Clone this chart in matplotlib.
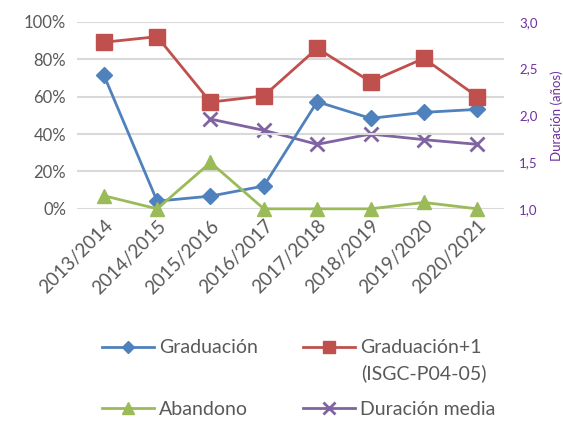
import matplotlib.pyplot as plt
import numpy as np

plt.rcParams['font.family'] = ['Lato', 'DejaVu Sans']

cursos = ['2013/2014', '2014/2015', '2015/2016', '2016/2017',
          '2017/2018', '2018/2019', '2019/2020', '2020/2021']
graduacion = [71.6, 4.1, 6.8, 12.2, 57.3, 48.4, 51.6, 53.2]
graduacion1 = [89.1, 92.1, 57.1, 60.4, 85.9, 68.0, 80.5, 60.0]
abandono = [7.0, 0, 24.8, 0, 0, 0, 3.4, 0]
duracion = [np.nan, np.nan, 1.96, 1.84, 1.69, 1.80, 1.74, 1.69]

gris = '#595959'
morado = '#7030A0'

fig = plt.figure(figsize=(5.63, 4.21), dpi=100)
ax = fig.add_axes([0.137, 0.504, 0.758, 0.444])
ax2 = ax.twinx()

x = np.arange(len(cursos))
l1, = ax.plot(x, graduacion, color='#4F81BD', lw=2, marker='D', ms=8,
              label='Graduación', clip_on=False)
l2, = ax.plot(x, graduacion1, color='#C0504D', lw=2, marker='s', ms=11,
              label='Graduación+1', clip_on=False)
l3, = ax.plot(x, abandono, color='#9BBB59', lw=2, marker='^', ms=10,
              label='Abandono', clip_on=False)
l4, = ax2.plot(x, duracion, color='#8064A2', lw=2, marker='x', ms=10, mew=2,
               label='Duración media')

ax.set_xlim(-0.5, len(cursos) - 0.5)
ax.set_ylim(0, 100)
ax.set_yticks(range(0, 101, 20))
ax.set_yticklabels([f'{v}%' for v in range(0, 101, 20)])
ax.grid(axis='y', color='#D9D9D9', lw=1.5)
ax.set_axisbelow(True)
ax.set_zorder(ax2.get_zorder() + 1)
ax.patch.set_visible(False)

ax2.set_ylim(1.0, 3.0)
ax2.set_yticks([1.0, 1.5, 2.0, 2.5, 3.0])
ax2.set_yticklabels(['1,0', '1,5', '2,0', '2,5', '3,0'])
ax2.set_ylabel('Duración (años)', color=morado, fontsize=9.5, labelpad=9)
ax2.tick_params(axis='y', colors=morado, labelsize=9.5, length=0, pad=11)

ax.set_xticks(x)
ax.set_xticklabels(cursos, rotation=45, ha='right', rotation_mode='anchor')
ax.tick_params(axis='x', colors=gris, labelsize=13.5, length=0, pad=6)
ax.tick_params(axis='y', colors=gris, labelsize=12, length=0, pad=8)

for a in (ax, ax2):
    for s in a.spines.values():
        s.set_visible(False)

# leyenda en filas: Graduación / Graduación+1, Abandono / Duración media
fig.legend(handles=[l1, l3, l2, l4], ncol=2, loc='upper left',
           bbox_to_anchor=(0.181, 0.194), frameon=False, fontsize=14,
           labelcolor=gris, handlelength=2.7, handletextpad=0.25,
           columnspacing=2.3, labelspacing=2.3, markerscale=0.8,
           borderpad=0, borderaxespad=0)
fig.text(361 / 563, 1 - 373 / 421, '(ISGC-P04-05)', color=gris, fontsize=14,
         va='center', ha='left')

plt.savefig('out.png', dpi=100)
